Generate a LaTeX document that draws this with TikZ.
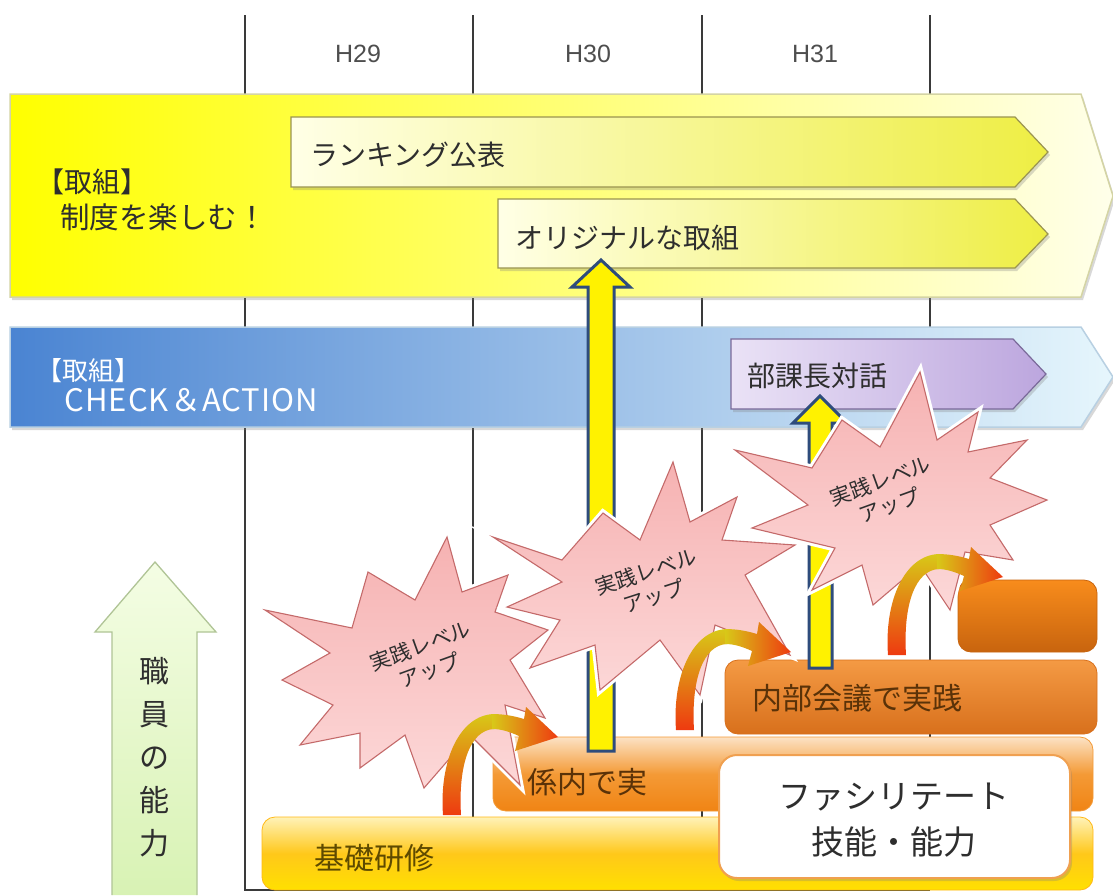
\documentclass[tikz,border=0pt]{standalone}
\usepackage{fontspec}
\setmainfont{Noto Sans CJK JP}
\newfontfamily\latfont{Liberation Sans}
\newfontfamily\spacedfont[LetterSpace=3.5]{Noto Sans CJK JP}
\usetikzlibrary{shadows}
\definecolor{gridc}{HTML}{3A3A3A}
\definecolor{txt}{HTML}{2E2E2E}
\definecolor{yA}{HTML}{FFFF00}
\definecolor{yB}{HTML}{FFFF9C}
\definecolor{yC}{HTML}{FFFFEA}
\definecolor{yBorder}{HTML}{D4D4A4}
\definecolor{rkA}{HTML}{FFFFE6}
\definecolor{rkB}{HTML}{EEEE44}
\definecolor{rkBorder}{HTML}{9A9450}
\definecolor{bA}{HTML}{4A84D2}
\definecolor{bB}{HTML}{A8C6E8}
\definecolor{bC}{HTML}{E6F6FC}
\definecolor{bBorder}{HTML}{B8D0E2}
\definecolor{pA}{HTML}{EAE2F6}
\definecolor{pB}{HTML}{BCA6DE}
\definecolor{pBorder}{HTML}{7A6A9A}
\definecolor{navy}{HTML}{2E4C7C}
\definecolor{pinkA}{HTML}{F6B2B2}
\definecolor{pinkB}{HTML}{FCD8D8}
\definecolor{pinkBorder}{HTML}{C46A6A}
\definecolor{gA}{HTML}{F4FDE4}
\definecolor{gB}{HTML}{D8F2B4}
\definecolor{gBorder}{HTML}{B0C496}
\definecolor{kA}{HTML}{FFF2B8}
\definecolor{kB}{HTML}{FFC81A}
\definecolor{kC}{HTML}{FFE000}
\definecolor{oA}{HTML}{FCE2C4}
\definecolor{oB}{HTML}{F49A36}
\definecolor{oC}{HTML}{F08414}
\definecolor{nA}{HTML}{F49A44}
\definecolor{nB}{HTML}{D8701C}
\definecolor{sA}{HTML}{F88C1C}
\definecolor{sB}{HTML}{C8640E}
\definecolor{brownT}{HTML}{5A3208}
\definecolor{oliveT}{HTML}{5E4A00}
\definecolor{wBorder}{HTML}{F0A050}
\definecolor{cY}{HTML}{D8C818}
\definecolor{cO}{HTML}{F0A020}
\definecolor{cR}{HTML}{EE3A10}
\tikzset{
  gridline/.style={draw=gridc, line width=1.3},
  shad/.style={drop shadow={opacity=0.3, shadow xshift=2pt, shadow yshift=-3pt}},
  yband/.style={shad, left color=yA, middle color=yB, right color=yC, draw=yBorder, line width=1.5},
  bband/.style={shad, left color=bA, middle color=bB, right color=bC, draw=bBorder, line width=1.5},
  rkbox/.style={shad, left color=rkA, right color=rkB, draw=rkBorder, line width=1.2},
  pbox/.style={shad, left color=pA, right color=pB, draw=pBorder, line width=1.2},
  uparrow/.style={fill=yellow, draw=navy, line width=3, line join=miter},
  burst/.style={preaction={draw=white, line width=7}, top color=pinkA, bottom color=pinkB, draw=pinkBorder, line width=1.1, line join=miter},
  bursttext/.style={align=center, text=txt, font=\fontsize{21}{26}\selectfont},
  carrowA/.style={top color=cY, bottom color=cR},
  carrowB/.style={left color=cY, right color=cR},
  kbox/.style={rounded corners=13, top color=kA, bottom color=kC, middle color=kB, draw=kB!80!orange, line width=0.8},
  obox/.style={rounded corners=13, top color=oA, bottom color=oC, middle color=oB, draw=oB, line width=0.8},
  nbox/.style={rounded corners=13, top color=nA, bottom color=nB, draw=nB, line width=0.8},
  sbox/.style={rounded corners=13, top color=sA, bottom color=sB, draw=sB, line width=0.8},
  wbox/.style={rounded corners=18, fill=white, draw=wBorder, line width=2, shad},
  garrow/.style={top color=gA, bottom color=gB, draw=gBorder, line width=1.3},
  jp28/.style={font=\fontsize{28}{32}\selectfont, text=txt},
  jp30/.style={font=\fontsize{30}{34}\selectfont},
  yr/.style={font=\latfont\fontsize{25}{28}\selectfont, text=gridc!90},
}
\begin{document}
\begin{tikzpicture}[x=1pt,y=-1pt]
\useasboundingbox (0,0) rectangle (1113,895);
\fill[white] (0,0) rectangle (1113,895);

% grid
\draw[gridline] (245,15) -- (245,890) -- (930,890);
\draw[gridline] (473,15) -- (473,890);
\draw[gridline] (702,15) -- (702,890);
\draw[gridline] (930,15) -- (930,890);
\node[yr] (h29) at (358,54) {H29};
\node[yr] (h30) at (588,54) {H30};
\node[yr] (h31) at (815,54) {H31};

% yellow band
\path[yband] (10,94) -- (1081,94) -- (1113,196) -- (1081,297) -- (10,297) -- cycle;
\node[jp28, anchor=west, inner sep=0] (tk1) at (36,182) {【取組】};
\node[jp28, font=\fontsize{29.5}{33}\selectfont, anchor=west, inner sep=0] (tk1b) at (60,217) {制度を楽しむ！};
\path[rkbox] (291,117) -- (1015,117) -- (1048,152) -- (1015,187) -- (291,187) -- cycle;
\node[jp28, anchor=west, inner sep=0] (rank) at (310,155) {ランキング公表};
\path[rkbox] (498,199) -- (1015,199) -- (1048,234) -- (1015,268) -- (498,268) -- cycle;
\node[jp28, anchor=west, inner sep=0] (orig) at (515,238) {オリジナルな取組};

% blue band
\path[bband] (10,327) -- (1081,327) -- (1113,377) -- (1081,427) -- (10,427) -- cycle;
\node[font=\fontsize{26}{30}\selectfont, text=white, anchor=west, inner sep=0] (tk2) at (36,371) {【取組】};
\node[font=\spacedfont\fontsize{31}{36}\selectfont, text=white, anchor=west, inner sep=0] (ca) at (64,400) {CHECK＆ACTION};
\path[pbox] (731,339) -- (1013,339) -- (1046,374) -- (1013,409) -- (731,409) -- cycle;
\node[jp28, anchor=west, inner sep=0] (bk) at (747,376) {部課長対話};

% green arrow
\path[garrow] (112,895) -- (112,632) -- (95,632) -- (155,562) -- (216,632) -- (197,632) -- (197,895);
\node[align=center, text=txt, font=\fontsize{30}{43}\selectfont] (skill) at (154,757) {職\\員\\の\\能\\力};

% orange steps
\path[kbox] (262,817) rectangle (1093,890);
\node[jp30, text=oliveT, anchor=west, inner sep=0] (kiso) at (314,858) {基礎研修};
\path[obox] (493,737) rectangle (1093,811);
\node[jp30, text=brownT, anchor=west, inner sep=0] (kakari) at (527,782) {係内で実};
\path[nbox] (725,660) rectangle (1097,734);
\node[jp30, text=brownT, anchor=west, inner sep=0] (naibu) at (752,698) {内部会議で実践};
\path[sbox] (958,580) rectangle (1097,652);

% vertical yellow arrows
\path[uparrow] (588,751) -- (588,287) -- (572,287) -- (601,260) -- (630,287) -- (614,287) -- (614,751) -- cycle;
\path[uparrow] (809,668) -- (809,423) -- (793,423) -- (820,396) -- (847,423) -- (832,423) -- (832,668) -- cycle;

% bursts
\path[burst] (265,610) -- (352,628) -- (368,572) -- (415,600) -- (447,537) -- (462,592) -- (508,575) -- (495,612) -- (548,630) -- (510,660) -- (545,718) -- (505,705) -- (520,785) -- (470,735) -- (424,788) -- (405,735) -- (360,768) -- (360,733) -- (300,745) -- (333,705) -- (282,680) -- (330,653) -- cycle;
\node[bursttext, rotate=20] (b1) at (425,658) {実践レベル\\アップ};
\path[burst] (493,537) -- (562,560) -- (603,513) -- (640,540) -- (673,462) -- (690,522) -- (737,497) -- (722,540) -- (795,545) -- (745,575) -- (790,655) -- (715,625) -- (700,695) -- (660,640) -- (600,690) -- (595,645) -- (530,668) -- (560,620) -- (507,607) -- (562,582) -- cycle;
\node[bursttext, rotate=18] (b2) at (650,584) {実践レベル\\アップ};
\path[burst] (735,450) -- (812,468) -- (842,420) -- (880,447) -- (920,372) -- (937,440) -- (978,412) -- (968,452) -- (1027,440) -- (990,478) -- (1047,500) -- (990,525) -- (1013,560) -- (965,552) -- (950,610) -- (920,565) -- (873,605) -- (862,565) -- (812,590) -- (835,548) -- (752,528) -- (808,505) -- cycle;
\node[bursttext, rotate=20] (b3) at (885,493) {実践レベル\\アップ};

% curved arrows (rising part + head part)
\foreach \sx/\sy in {452/815, 685/730, 897/655}{
  \path[carrowA, shift={(\sx,\sy)}] (-9,0) .. controls (-13,-55) and (8,-100) .. (42,-101) -- (42,-86) .. controls (18,-85) and (6,-50) .. (9,0) -- cycle;
  \path[carrowB, shift={(\sx,\sy)}] (40,-101) .. controls (52,-101) and (62,-99) .. (72,-96) -- (74,-108) -- (106,-78) -- (63,-64) -- (67,-79) .. controls (58,-83) and (50,-86) .. (40,-86) -- cycle;
}

% white box
\path[wbox] (719,755) rectangle (1070,878);
\node[align=center, text=txt, font=\fontsize{33}{46}\selectfont] (fac) at (894,820) {ファシリテート\\技能・能力};
\end{tikzpicture}
\end{document}
